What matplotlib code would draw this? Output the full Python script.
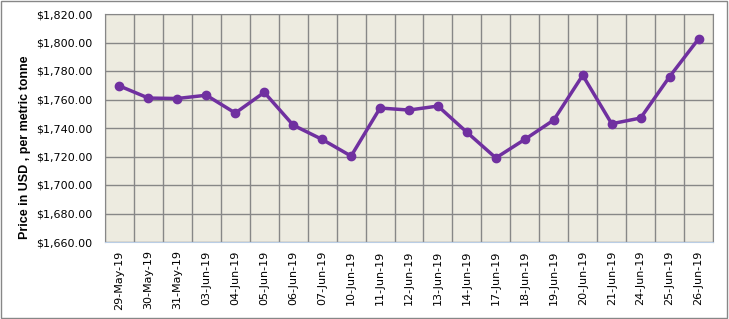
import matplotlib
matplotlib.use("Agg")
import matplotlib.pyplot as plt
from matplotlib.patches import Rectangle

dates = ["29-May-19", "30-May-19", "31-May-19", "03-Jun-19", "04-Jun-19", "05-Jun-19",
         "06-Jun-19", "07-Jun-19", "10-Jun-19", "11-Jun-19", "12-Jun-19", "13-Jun-19",
         "14-Jun-19", "17-Jun-19", "18-Jun-19", "19-Jun-19", "20-Jun-19", "21-Jun-19",
         "24-Jun-19", "25-Jun-19", "26-Jun-19"]
prices = [1769.5, 1761.0, 1760.7, 1763.0, 1750.5, 1765.0,
          1742.0, 1732.0, 1720.3, 1754.0, 1752.6, 1755.4,
          1737.0, 1719.0, 1732.0, 1745.6, 1777.0, 1743.0,
          1747.0, 1776.0, 1802.5]
yticks = [1660, 1680, 1700, 1720, 1740, 1760, 1780, 1800, 1820]

plt.rcParams['font.family'] = ['DejaVu Sans']
fig = plt.figure(figsize=(7.29, 3.19), dpi=100)
ax = fig.add_axes([105/729, 77/319, 608/729, 228/319])
ax.set_facecolor('#EDEBE0')

n = len(dates)
x = list(range(n))
ax.plot(x, prices, color='#7030A0', lw=2.5, marker='o', ms=6, zorder=3)
ax.set_xlim(-0.5, n - 0.5)
ax.set_ylim(1660, 1820)
ax.set_yticks(yticks)
ax.set_yticklabels([f"${v:,.2f}" for v in yticks], fontsize=8)
ax.set_xticks(x)
ax.set_xticklabels(dates, rotation=90, fontsize=8)
ax.set_xticks([i - 0.5 for i in range(n + 1)], minor=True)
ax.grid(True, which='minor', axis='x', color='#878787', lw=1)
ax.grid(True, which='major', axis='y', color='#878787', lw=1)
ax.tick_params(axis='both', which='both', length=0)
ax.tick_params(axis='x', pad=6)
ax.tick_params(axis='y', pad=9)
for s in ['top', 'right', 'left']:
    ax.spines[s].set_color('#878787')
ax.spines['bottom'].set_color('#B9CDE5')
ax.set_ylabel("Price in USD , per metric tonne", fontsize=9, fontweight='bold',
              family=['Liberation Sans', 'DejaVu Sans'])
ax.yaxis.set_label_coords(-0.122, 0.417)

fig.patches.append(Rectangle((0.002, 0.004), 0.995, 0.992, transform=fig.transFigure,
                             fill=False, edgecolor='#878787', lw=1))
fig.savefig("out.png", dpi=100)
